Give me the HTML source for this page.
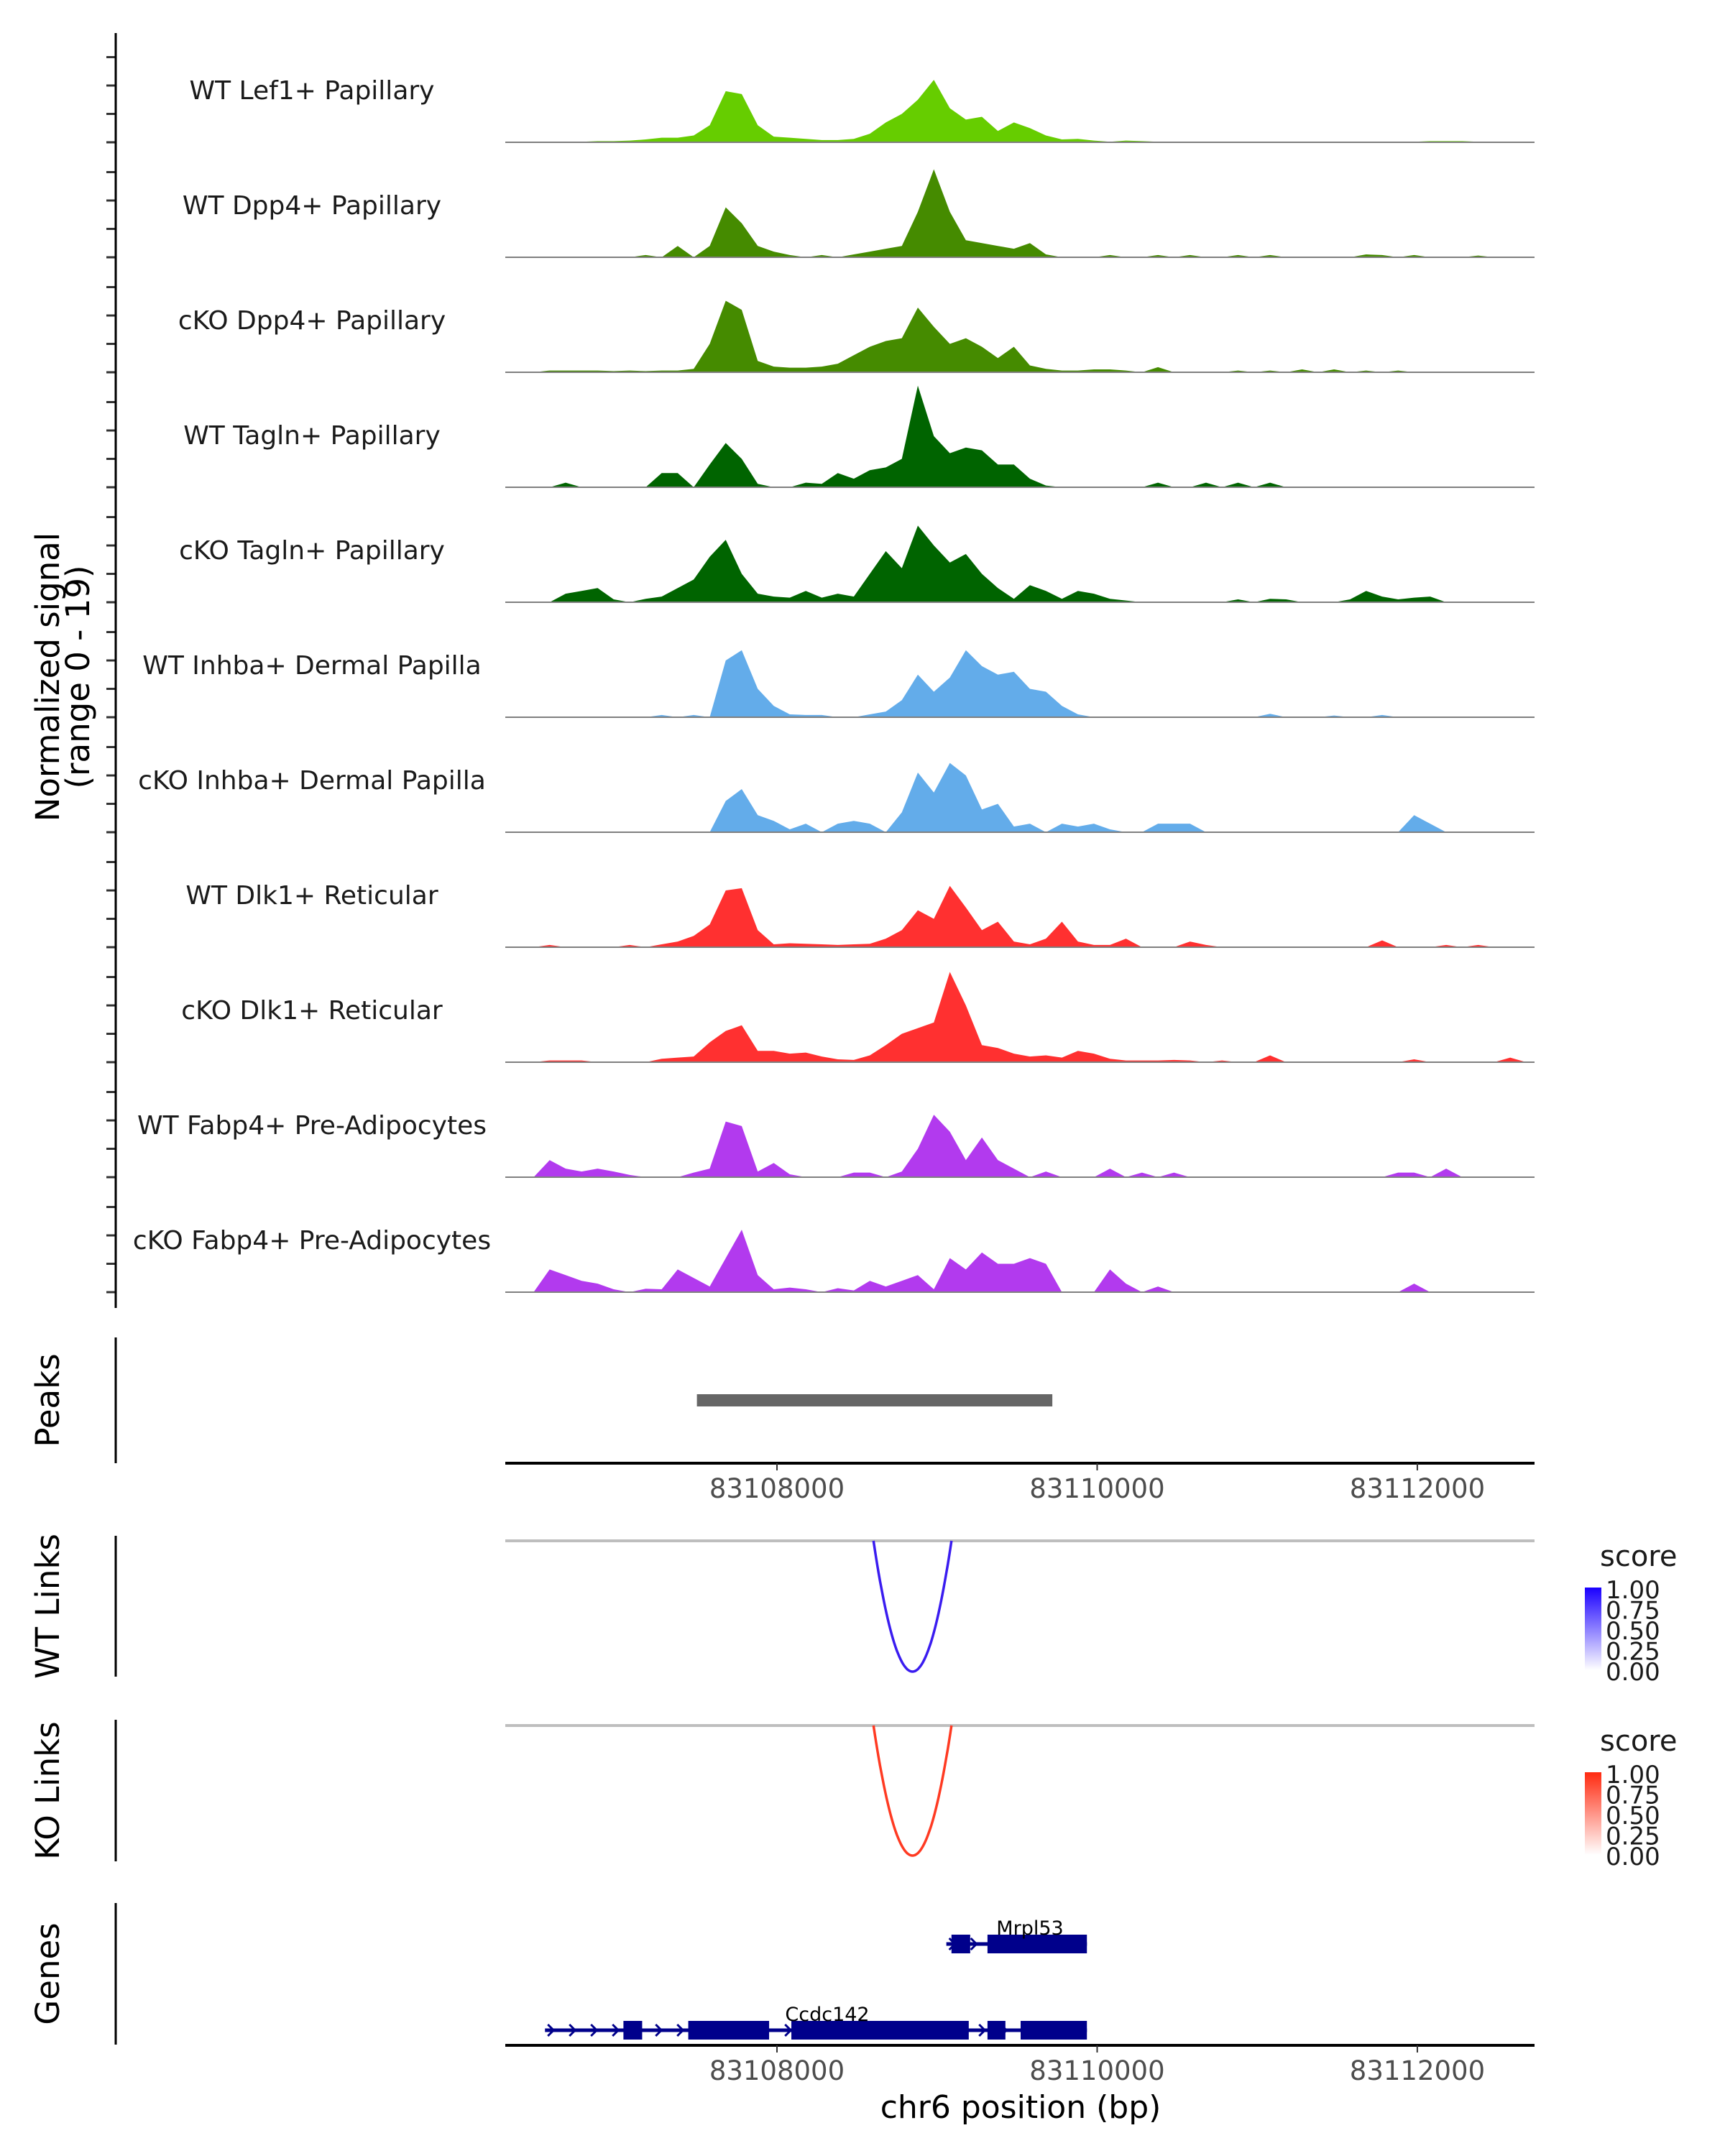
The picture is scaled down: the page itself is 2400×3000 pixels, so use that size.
<!DOCTYPE html>
<html><head><meta charset="utf-8"><style>
html,body{margin:0;padding:0;background:#fff}
svg{display:block}
text{font-family:"DejaVu Sans","Liberation Sans",sans-serif}
</style></head><body>
<svg id="chart" width="2400" height="3000" viewBox="0 0 2400 3000" xmlns="http://www.w3.org/2000/svg">
<defs>
<linearGradient id="gBlue" x1="0" y1="1" x2="0" y2="0"><stop offset="0" stop-color="#ffffff"/><stop offset="1" stop-color="#1a00ff"/></linearGradient>
<linearGradient id="gRed" x1="0" y1="1" x2="0" y2="0"><stop offset="0" stop-color="#ffffff"/><stop offset="1" stop-color="#ff2a10"/></linearGradient>
</defs>
<g id="tracks"></g>
<g id="axes"></g>
</svg>
<script>
// ---- data ----
const regionStart = 83106303;
const regionEnd = 83112732;
const dataStart = 83106330;
const binSize = 100;
const trackNames = ["WT Lef1+ Papillary","WT Dpp4+ Papillary","cKO Dpp4+ Papillary","WT Tagln+ Papillary","cKO Tagln+ Papillary","WT Inhba+ Dermal Papilla","cKO Inhba+ Dermal Papilla","WT Dlk1+ Reticular","cKO Dlk1+ Reticular","WT Fabp4+ Pre-Adipocytes","cKO Fabp4+ Pre-Adipocytes"];
const trackColors = ["#66cd00","#458b00","#458b00","#006400","#006400","#63acea","#63acea","#ff3030","#ff3030","#b23aee","#b23aee"];
const sigLef1WT = [0,0,0.1,0.1,0.1,0.2,0.2,0.3,0.5,0.8,0.8,1.2,3,9,8.5,3,1,0.8,0.6,0.4,0.4,0.6,1.5,3.5,5,7.5,11,6,4,4.5,2,3.5,2.5,1.2,0.5,0.6,0.3,0.1,0.3,0.2,0.1,0.1,0.1,0.1,0.1,0.1,0.1,0.1,0.1,0.1,0.1,0.1,0.1,0.1,0.1,0,0.1,0.2,0.2,0.2,0.1,0,0,0];
const sigDpp4WT = [0,0,0,0,0,0,0,0,0.4,0,2,0,2,8.8,6,2,1,0.4,0,0.4,0,0.5,1,1.5,2,8,15.5,8,3,2.5,2,1.5,2.5,0.5,0,0,0,0.4,0,0,0.4,0,0.4,0,0,0.4,0,0.4,0,0,0,0,0,0.5,0.4,0,0.4,0,0,0,0.3,0,0,0];
const sigDpp4KO = [0,0,0.3,0.3,0.3,0.3,0.2,0.3,0.2,0.3,0.3,0.6,5,12.6,11,2,1,0.8,0.8,1,1.5,3,4.5,5.5,6,11.4,8,5,6,4.5,2.5,4.5,1.2,0.6,0.3,0.3,0.5,0.5,0.3,0,0.9,0,0,0,0,0.3,0,0.3,0,0.5,0,0.5,0,0.3,0,0.3,0,0,0,0,0,0,0,0];
const sigTaglnWT = [0,0,0,0.8,0,0,0,0,0,2.5,2.5,0,4,7.8,5,0.6,0,0,0.8,0.6,2.5,1.5,3,3.5,5,17.9,9,6,7,6.5,4,4,1.5,0.3,0,0,0,0,0,0,0.8,0,0,0.8,0,0.8,0,0.8,0,0,0,0,0,0,0,0,0,0,0,0,0,0,0,0];
const sigTaglnKO = [0,0,0,1.5,2,2.5,0.5,0,0.6,1,2.5,4,8,11,5,1.5,1,0.8,2,0.8,1.5,1,5,9,6,13.5,10,7,8.5,5,2.5,0.6,3,2,0.6,2,1.5,0.6,0.3,0,0,0,0,0,0,0.5,0,0.6,0.5,0,0,0,0.5,2,1,0.5,0.8,1,0,0,0,0,0,0];
const sigInhbaWT = [0,0,0,0,0,0,0,0,0,0.4,0,0.4,0,10,11.8,5,2,0.5,0.4,0.4,0,0,0.5,1,3,7.5,4.5,7,11.8,9,7.5,8,5,4.5,2,0.5,0,0,0,0,0,0,0,0,0,0,0,0.6,0,0,0,0.3,0,0,0.4,0,0,0,0,0,0,0,0,0];
const sigInhbaKO = [0,0,0,0,0,0,0,0,0,0,0,0,0,5.5,7.6,3,2,0.5,1.5,0,1.5,2,1.5,0,3.5,10.5,7,12.2,10,4,5,1,1.5,0,1.5,1,1.5,0.5,0,0,1.5,1.5,1.5,0,0,0,0,0,0,0,0,0,0,0,0,0,3,1.5,0,0,0,0,0,0];
const sigDlk1WT = [0,0,0.4,0,0,0,0,0.4,0,0.5,1,2,4,10,10.4,3,0.5,0.7,0.6,0.5,0.4,0.5,0.6,1.5,3,6.5,5,10.8,7,3,4.5,1,0.5,1.5,4.5,1,0.4,0.4,1.5,0,0,0,1,0.4,0,0,0,0,0,0,0,0,0,0,1.2,0,0,0,0.4,0,0.4,0,0,0];
const sigDlk1KO = [0,0,0.3,0.3,0.3,0,0,0,0,0.6,0.8,1,3.5,5.5,6.5,2,2,1.5,1.7,1,0.5,0.4,1.2,3,5,6,7,15.9,10,3,2.5,1.5,1,1.2,0.8,2,1.5,0.6,0.3,0.3,0.3,0.4,0.3,0,0.3,0,0,1.2,0,0,0,0,0,0,0,0,0.5,0,0,0,0,0,0.8,0];
const sigFabp4WT = [0,0,3,1.5,1,1.5,1,0.4,0,0,0,0.8,1.5,9.8,9,1,2.5,0.5,0,0,0,0.8,0.8,0,1,5,11,8,3,7,3,1.5,0,1,0,0,0,1.5,0,0.8,0,0.8,0,0,0,0,0,0,0,0,0,0,0,0,0,0.8,0.8,0,1.5,0,0,0,0,0];
const sigFabp4KO = [0,0,4,3,2,1.5,0.5,0,0.6,0.5,4,2.5,1,6,11,3,0.5,0.8,0.5,0,0.7,0.3,2,1,2,3,0.5,6,4,7,5,5,6,5,0,0,0,4,1.5,0,1,0,0,0,0,0,0,0,0,0,0,0,0,0,0,0,1.5,0,0,0,0,0,0,0];
const signals = [sigLef1WT,sigDpp4WT,sigDpp4KO,sigTaglnWT,sigTaglnKO,sigInhbaWT,sigInhbaKO,sigDlk1WT,sigDlk1KO,sigFabp4WT,sigFabp4KO];
const xTicks = [83108000,83110000,83112000];
const yTickValues = [0,5,10,15];
const peakRanges = [[83107500,83109720]];
const linkWT = [[83108603,83109090]];
const linkKO = [[83108603,83109090]];
const mrpl53Tx = [83109058,83109936];
const geneMrpl53 = [[83109090,83109207],[83109315,83109936]];
const ccdc142Tx = [83106551,83109936];
const geneCcdc142 = [[83107041,83107158],[83107446,83107951],[83108090,83109198],[83109315,83109427],[83109522,83109936]];
const legendTicks = ["1.00","0.75","0.50","0.25","0.00"];

// ---- scales ----
const X0 = 703, X1 = 2135;
const xs = bp => X0 + (bp - regionStart) / (regionEnd - regionStart) * (X1 - X0);
const base0 = 198, trackStep = 160, unitPx = 7.9;
const NS = "http://www.w3.org/2000/svg";
const svg = document.getElementById('chart');
const tracks = document.getElementById('tracks');
const axes = document.getElementById('axes');
function mk(tag, attrs, parent){const e=document.createElementNS(NS,tag);for(const k in attrs)e.setAttribute(k,attrs[k]);(parent||svg).appendChild(e);return e;}

signals.forEach((arr, t) => {
  const base = base0 + t*trackStep;
  const cp = [[xs(regionStart), base]];
  arr.forEach((v,i)=>{ const c = dataStart+(i+0.5)*binSize; if (c <= regionEnd) cp.push([xs(c), base - v*unitPx]); });
  cp.push([xs(regionEnd), base]);
  const area = mk('polygon',{points:cp.map(p=>p.join(',')).join(' '),fill:trackColors[t]},tracks);
  
  
  const bl = mk('line',{x1:X0,x2:X1,y1:base,y2:base,stroke:'#7f7f7f','stroke-width':2},tracks);
  
  
  const lb = mk('text',{x:434,y:base-60,'font-size':36,'text-anchor':'middle',fill:'#1a1a1a'},tracks);
  lb.textContent = trackNames[t];
  
  
  yTickValues.forEach(v=>{
    const tk = mk('line',{x1:148,x2:160,y1:base - v*unitPx,y2:base - v*unitPx,stroke:'#333','stroke-width':3},axes);
    
    
  });
});
let e = mk('line',{x1:161,x2:161,y1:46,y2:1820,stroke:'#000','stroke-width':3},axes);


e = mk('text',{transform:'translate(82,942) rotate(-90)','font-size':45,'text-anchor':'middle',fill:'#000'},axes);
e.textContent = 'Normalized signal';


e = mk('text',{transform:'translate(124,942) rotate(-90)','font-size':45,'text-anchor':'middle',fill:'#000'},axes);
e.textContent = '(range 0 - 19)';



[["Peaks",1861,2036],["WT Links",2137,2333],["KO Links",2393,2590],["Genes",2648,2845]].forEach(p=>{
  const l = mk('line',{x1:161,x2:161,y1:p[1],y2:p[2],stroke:'#000','stroke-width':3},axes);
  
  
  const t = mk('text',{transform:`translate(82,${(p[1]+p[2])/2}) rotate(-90)`,'font-size':45,'text-anchor':'middle',fill:'#000'},axes);
  t.textContent = p[0];
  
  
});

peakRanges.forEach(r=>{
  const b = mk('rect',{x:xs(r[0]),y:1940,width:xs(r[1])-xs(r[0]),height:17,fill:'#666666'});
  
  
});
function xAxis(y, name){
  const l = mk('line',{x1:X0,x2:X1,y1:y,y2:y,stroke:'#000','stroke-width':4},axes);
  
  
  xTicks.forEach(v=>{
    const tk = mk('line',{x1:xs(v),x2:xs(v),y1:y,y2:y+10,stroke:'#333','stroke-width':2},axes);
    
    
    const tl = mk('text',{x:xs(v),y:y+48,'font-size':37,'text-anchor':'middle',fill:'#4d4d4d'},axes);
    tl.textContent = v;
    
    
  });
}
xAxis(2036,'peaks-x-axis');
xAxis(2846,'genes-x-axis');
e = mk('text',{x:1420,y:2947,'font-size':44,'text-anchor':'middle',fill:'#000'},axes);
e.textContent = 'chr6 position (bp)';



function links(data, y0, depth, color, name){
  const g = mk('line',{x1:X0,x2:X1,y1:y0,y2:y0,stroke:'#bebebe','stroke-width':4});
  
  
  data.forEach(d=>{
    const a = xs(d[0]), b = xs(d[1]);
    let path = '';
    for(let k=0;k<=60;k++){const t=k/60;const x=a+(b-a)*t;path+=(k?'L':'M')+x.toFixed(1)+','+(y0+depth*(1-Math.pow(2*t-1,2))).toFixed(1);}
    const p = mk('path',{d:path,fill:'none',stroke:color,'stroke-width':3.5});
    
    
  });
}
links(linkWT, 2144, 182, '#3a1cf0', 'wt-link');
links(linkKO, 2401, 181, '#ff3a22', 'ko-link');

function legend(y, grad, name){
  const t = mk('text',{x:2226,y:y+12,'font-size':40,fill:'#1a1a1a'});
  t.textContent = 'score';
  
  
  const r = mk('rect',{x:2205,y:y+42,width:23,height:115,fill:`url(#${grad})`});
  
  
  legendTicks.forEach((lab,i)=>{
    const ty = y+45+i*28.5;
    const tl = mk('text',{x:2234,y:ty+12,'font-size':34,fill:'#1a1a1a'});
    tl.textContent = lab;
    
    
  });
}
legend(2167, 'gBlue', 'wt-legend');
legend(2424, 'gRed', 'ko-legend');

function gene(tx, exons, y, label, lx, ly, name){
  const s = xs(tx[0]), en = xs(tx[1]);
  const l = mk('line',{x1:s,x2:en,y1:y,y2:y,stroke:'#00008b','stroke-width':5});
  
  
  for(let x=s+4; x<en; x+=30){
    const ch = mk('path',{d:`M${x},${y-8}L${x+8},${y}L${x},${y+8}`,fill:'none',stroke:'#00008b','stroke-width':3});
    
    
  }
  exons.forEach(ex=>{
    const r = mk('rect',{x:xs(ex[0]),y:y-13,width:xs(ex[1])-xs(ex[0]),height:26,fill:'#00008b'});
    
    
  });
  const t = mk('text',{x:lx,y:ly,'font-size':27,'text-anchor':'middle',fill:'#000'});
  t.textContent = label;
  
  
}
gene(mrpl53Tx, geneMrpl53, 2705, 'Mrpl53', 1433, 2692, 'mrpl53');
gene(ccdc142Tx, geneCcdc142, 2825, 'Ccdc142', 1151, 2812, 'ccdc142');
</script>
</body></html>
